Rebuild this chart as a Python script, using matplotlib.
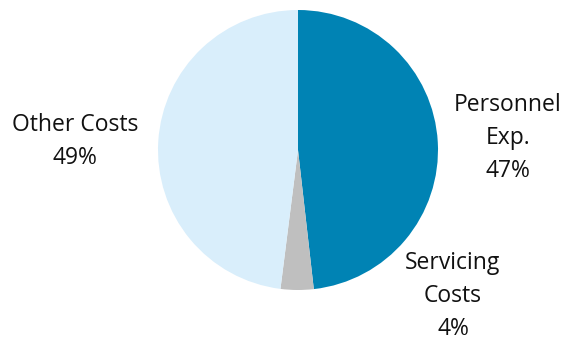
import matplotlib
matplotlib.use("Agg")
import matplotlib.pyplot as plt

# cost breakdown: slice sizes as drawn (%), and the printed labels
categories = ["Personnel\nExp.", "Servicing\nCosts", "Other Costs"]
shares = [48.2, 3.8, 48.0]
share_labels = ["47%", "4%", "49%"]
colors = ["#0083b4", "#bfbfbf", "#d9eefb"]

# label anchor positions in pie units (radius = 1)
label_pos = [(1.50, 0.086), (1.107, -1.04), (-1.593, 0.064)]

plt.rcParams["font.family"] = ["Open Sans", "DejaVu Sans"]

fig = plt.figure(figsize=(5.67, 3.42), dpi=100)
W, H = 567, 342
ax = fig.add_axes([158 / W, (H - 290) / H, 280 / W, 280 / H])

ax.pie(shares, colors=colors, startangle=90, counterclock=False,
       radius=1.0, wedgeprops=dict(linewidth=0))

for cat, lab, (x, y) in zip(categories, share_labels, label_pos):
    ax.text(x, y, f"{cat}\n{lab}", ha="center", va="center",
            fontsize=16.5, linespacing=1.5, color="#111111", clip_on=False)

ax.set_xlim(-1, 1)
ax.set_ylim(-1, 1)
ax.set_aspect("equal")
ax.axis("off")

fig.savefig("out.png", dpi=100)
